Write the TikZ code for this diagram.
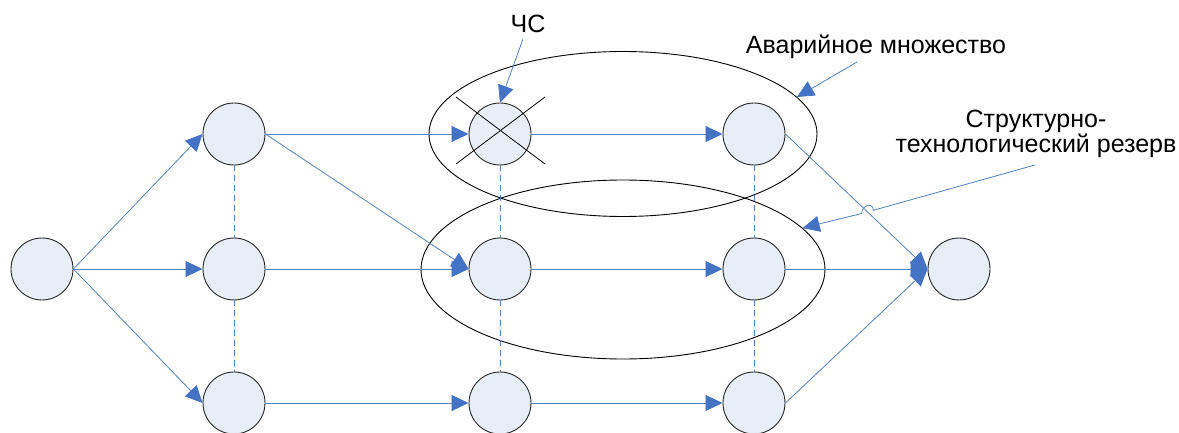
\documentclass[tikz,border=0pt]{standalone}
\usepackage{fontspec}
\setmainfont{Liberation Sans}
\usetikzlibrary{arrows.meta,shapes.geometric,calc}
\definecolor{linkblue}{RGB}{79,129,189}
\definecolor{tipblue}{RGB}{68,114,196}
\definecolor{vertfill}{RGB}{232,238,247}
\tikzset{
	vert/.style={circle,draw=black!85,line width=0.9pt,fill=vertfill,minimum size=62pt,inner sep=0pt},
	link/.style={draw=linkblue,line width=0.8pt,-{Triangle[length=17pt,width=16pt,color=tipblue]}},
	dashlink/.style={draw=linkblue,line width=0.8pt,dash pattern=on 6pt off 4pt},
	zone/.style={ellipse,draw=black,line width=0.9pt,inner sep=0pt},
	lbl/.style={text=black,inner sep=0pt,font=\fontsize{25}{25}\selectfont}
}
\begin{document}
\begin{tikzpicture}[x=1pt,y=-1pt]
	\useasboundingbox (0,0) rectangle (1179,433);
	% zones
	\node[zone,minimum width=388pt,minimum height=165pt] (avar) at (623,134) {};
	\node[zone,minimum width=404pt,minimum height=179pt] (rez) at (623,269.5) {};
	% vertices
	\node[vert] (n0) at (42,269) {};
	\node[vert] (nR) at (959,269) {};
	\foreach \c/\x in {1/234,2/500,3/754}
		{
		\foreach \r/\y in {1/134,2/269,3/403}
			{
			\node[vert] (n\c\r) at (\x,\y) {};
			}
		}
	% dashed links
	\foreach \c in {1,2,3}
		{
		\draw[dashlink] (n\c1.south) -- (n\c2.north);
		\draw[dashlink] (n\c2.south) -- (n\c3.north);
		}
	% arcs
	\foreach \r in {1,2,3}
		{
		\draw[link] (n0.east) -- (n1\r.west);
		\draw[link] (n2\r.east) -- (n3\r.west);
		\draw[link] (n3\r.east) -- (nR.west);
		}
	\draw[link] (n11.east) -- (n21.west);
	\draw[link] (n11.east) -- (n22.west);
	\draw[link] (n12.east) -- (n22.west);
	\draw[link] (n13.east) -- (n23.west);
	% failed vertex
	\draw[line width=0.8pt] ($(n21)+(-44,-37)$) -- ($(n21)+(45,30)$);
	\draw[line width=0.8pt] ($(n21)+(-44,30)$) -- ($(n21)+(45,-37)$);
	% labels
	\node[lbl,anchor=base] (chs) at (528,33) {ЧС};
	\coordinate (chsFrom) at (523,39);
	\draw[link] (chsFrom) -- (n21.north);
	\node[lbl,anchor=base] (avarTxt) at (876,54) {Аварийное множество};
	\coordinate (avarFrom) at (857,62);
	\draw[link] (avarFrom) -- (avar.12);
	\node[lbl,align=center,anchor=base] (rezTxt) at (1036,153) {Структурно-\\технологический резерв};
	\coordinate (rezFrom) at (1035,165);
	\coordinate (hopA) at (873.3,210.3);
	\coordinate (hopB) at (861.7,213.5);
	\draw[link] (rezFrom) -- (hopA) .. controls (873.3,202) and (861.7,205) .. (hopB) -- (rez.13);
\end{tikzpicture}
\end{document}
